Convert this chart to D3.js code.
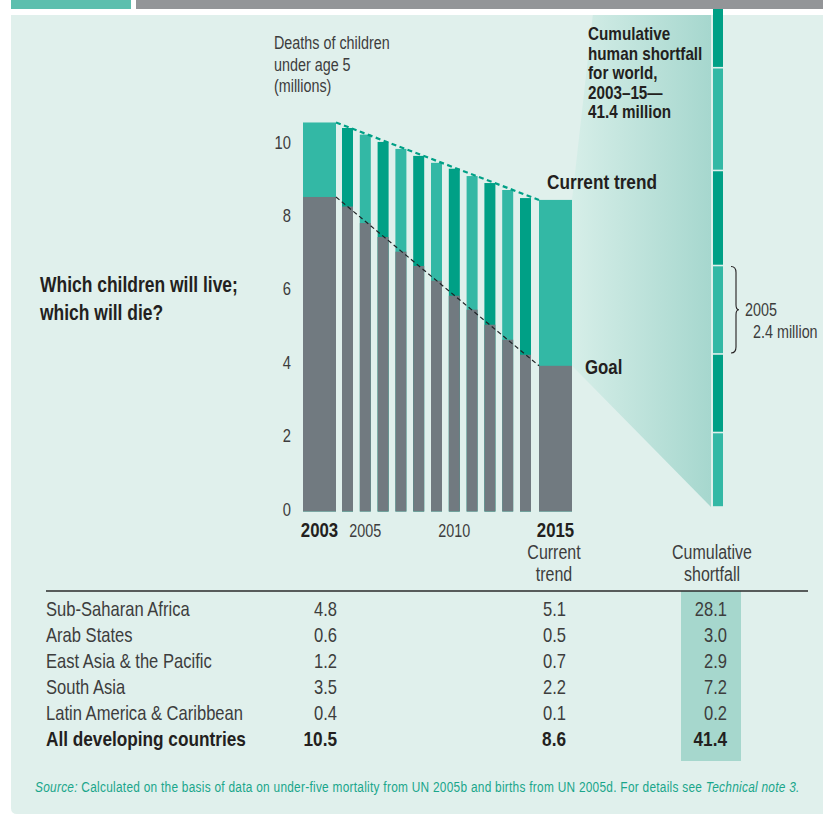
<!DOCTYPE html>
<html>
<head>
<meta charset="utf-8">
<script src="https://cdn.jsdelivr.net/npm/d3@7"></script>
<style>
  html, body { margin: 0; padding: 0; background: #ffffff; }
  svg { display: block; }
</style>
</head>
<body>
<svg id="chart" width="823" height="816"></svg>
<script>
// ---------------- DATA ----------------
const years = [2003, 2004, 2005, 2006, 2007, 2008, 2009, 2010, 2011, 2012, 2013, 2014, 2015];
// deaths of children under 5 (millions), current trend
const trendValues = [10.6, 10.45, 10.27, 10.07, 9.88, 9.69, 9.5, 9.34, 9.14, 8.95, 8.76, 8.54, 8.49];
// deaths if the goal trajectory were followed (millions)
const goalValues = [8.57, 8.31, 7.86, 7.48, 7.08, 6.69, 6.29, 5.88, 5.5, 5.09, 4.68, 4.27, 3.97];
const yTicks = [0, 2, 4, 6, 8, 10];
const yearLabels = [
  { year: 2003, label: "2003", bold: true },
  { year: 2005, label: "2005", bold: false },
  { year: 2010, label: "2010", bold: false },
  { year: 2015, label: "2015", bold: true }
];
const regions = ["Sub-Saharan Africa", "Arab States", "East Asia & the Pacific", "South Asia", "Latin America & Caribbean", "All developing countries"];
const deaths2003 = ["4.8", "0.6", "1.2", "3.5", "0.4", "10.5"];
const deaths2015 = ["5.1", "0.5", "0.7", "2.2", "0.1", "8.6"];
const cumulativeShortfall = ["28.1", "3.0", "2.9", "7.2", "0.2", "41.4"];

// ---------------- SETUP ----------------
const svg = d3.select("#chart");
const C = {
  bg: "#e0f0ec", dark: "#00a086", light: "#33b8a5", gray: "#717a80",
  text: "#231f20", soft: "#3d3d3d", teal: "#1aa68b", hl: "#a6d7cd",
  tab: "#5dbfae", head: "#939598"
};

// font detection: narrow font available?
const cv = document.createElement("canvas").getContext("2d");
cv.font = '20px "Liberation Sans Narrow", monospace';
const wN = cv.measureText("Sub-Saharan Africa").width;
cv.font = '20px monospace';
const wM = cv.measureText("Sub-Saharan Africa").width;
const hasNarrow = Math.abs(wN - wM) > 1;
const FAM = hasNarrow ? '"Liberation Sans Narrow", sans-serif' : '"Liberation Sans", Arial, sans-serif';
const SX = hasNarrow ? 1 : 0.82;

function txt(parent, o) {
  const g = parent.append("g").attr("transform", `translate(${o.x},${o.y}) scale(${SX},1)`);
  const t = g.append("text")
    .attr("x", 0).attr("y", 0)
    .attr("font-family", FAM)
    .attr("font-size", o.size || 17)
    .attr("font-weight", o.bold ? "bold" : "normal")
    .attr("text-anchor", o.anchor || "start")
    .attr("fill", o.fill || C.text);
  if (o.ls) t.attr("letter-spacing", o.ls);
  if (o.italic) t.attr("font-style", "italic");
  if (o.parts) {
    o.parts.forEach(p => {
      const s = t.append("tspan").text(p.t);
      if (p.italic) s.attr("font-style", "italic");
    });
  } else t.text(o.text);
  return t;
}

// ---------------- FRAME ----------------
svg.append("rect").attr("x", 11).attr("y", 0).attr("width", 120).attr("height", 9).attr("fill", C.tab);
svg.append("rect").attr("x", 136).attr("y", 0).attr("width", 687).attr("height", 9).attr("fill", C.head);
svg.append("path").attr("d", "M11,15 H823 V814 H17 Q11,814 11,808 Z").attr("fill", C.bg);

// ---------------- SCALES ----------------
const y = d3.scaleLinear().domain([0, 10]).range([511.5, 144.5]);
const xc = d3.scaleLinear().domain([2003, 2004, 2014, 2015]).range([319.5, 347.5, 525.5, 555.5]);
const bw = yr => (yr === 2003 || yr === 2015) ? 33 : 11;
const colorOf = (yr, i) => (yr === 2003 || yr === 2015) ? C.light : (i % 2 === 1 ? C.dark : C.light);

const data = years.map((yr, i) => ({ yr, i, trend: trendValues[i], goal: goalValues[i], gap: trendValues[i] - goalValues[i] }));

// ---------------- FUNNEL + CUMULATIVE COLUMN ----------------
const colX = 713, colW = 10, colBase = 507;
const unit = y(0) - y(1);
const total = d3.sum(data, d => d.gap);
const colTop = colBase - total * unit;
const last = data[data.length - 1];
const defs = svg.append("defs");
const grad = defs.append("linearGradient").attr("id", "fg").attr("gradientUnits", "userSpaceOnUse")
  .attr("x1", xc(2015) + bw(2015) / 2).attr("x2", colX - 2).attr("y1", 0).attr("y2", 0);
grad.append("stop").attr("offset", 0).attr("stop-color", "#d6eee8");
grad.append("stop").attr("offset", 1).attr("stop-color", "#a6d7ce");
defs.append("clipPath").attr("id", "panelClip").append("rect").attr("x", 11).attr("y", 15).attr("width", 812).attr("height", 800);
defs.append("clipPath").attr("id", "colClip").append("rect").attr("x", 0).attr("y", 9).attr("width", 823).attr("height", 810);

const fx = xc(2015) + bw(2015) / 2;
svg.append("path")
  .attr("clip-path", "url(#panelClip)")
  .attr("fill", "url(#fg)")
  .attr("d", `M${fx},${y(last.trend)} L${colX - 2},${colTop} L${colX - 2},${colBase} L${fx},${y(last.goal)} Z`);

const colG = svg.append("g").attr("clip-path", "url(#colClip)");
let acc = 0;
data.forEach(d => {
  const top = colBase - (acc + d.gap) * unit;
  const bot = colBase - acc * unit;
  colG.append("rect").attr("x", colX).attr("width", colW)
    .attr("y", top + 0.8).attr("height", Math.max(0, bot - top - 1.6))
    .attr("fill", colorOf(d.yr, d.i));
  d.colTop = top; d.colBot = bot;
  acc += d.gap;
});

// brace for 2005 segment
const b05 = data.find(d => d.yr === 2005);
const bt = b05.colTop + 1, bb = b05.colBot - 1, bm = (bt + bb) / 2, bx = 731;
svg.append("path")
  .attr("fill", "none").attr("stroke", C.text).attr("stroke-width", 1.1)
  .attr("d", `M${bx},${bt} Q${bx + 5},${bt} ${bx + 5},${bt + 6} L${bx + 5},${bm - 5} Q${bx + 5},${bm} ${bx + 8},${bm} Q${bx + 5},${bm} ${bx + 5},${bm + 5} L${bx + 5},${bb - 6} Q${bx + 5},${bb} ${bx},${bb}`);
txt(svg, { x: 745, y: bm + 6, text: "2005", size: 17.5, fill: C.soft });
txt(svg, { x: 753, y: bm + 28, text: "2.4 million", size: 17.5, fill: C.soft });

// ---------------- BARS ----------------
const bars = svg.append("g");
bars.selectAll("rect.t").data(data).join("rect").attr("class", "t")
  .attr("x", d => xc(d.yr) - bw(d.yr) / 2).attr("width", d => bw(d.yr))
  .attr("y", d => y(d.trend)).attr("height", d => y(0) - y(d.trend))
  .attr("fill", d => colorOf(d.yr, d.i));
bars.selectAll("rect.g").data(data).join("rect").attr("class", "g")
  .attr("x", d => xc(d.yr) - bw(d.yr) / 2).attr("width", d => bw(d.yr))
  .attr("y", d => y(d.goal)).attr("height", d => y(0) - y(d.goal))
  .attr("fill", C.gray);

// dashed lines
const first = data[0];
const lx1 = xc(2003) + bw(2003) / 2, lx2 = xc(2015) - bw(2015) / 2;
svg.append("line").attr("x1", lx1).attr("y1", y(first.trend)).attr("x2", lx2).attr("y2", y(last.trend))
  .attr("stroke", C.dark).attr("stroke-width", 2.2).attr("stroke-dasharray", "5,3.5");
svg.append("line").attr("x1", lx1).attr("y1", y(first.goal)).attr("x2", lx2).attr("y2", y(last.goal))
  .attr("stroke", "#1f2326").attr("stroke-width", 1.2).attr("stroke-dasharray", "4.5,3");

// ---------------- AXIS ----------------
const ax = svg.append("g").attr("transform", "translate(292,0)")
  .call(d3.axisLeft(y).tickValues(yTicks).tickSize(0).tickPadding(0).tickFormat(d3.format("d")));
ax.select(".domain").remove();
ax.selectAll("text").remove();
yTicks.forEach(v => txt(svg, { x: 291, y: y(v) + 4, text: String(v), size: 18, anchor: "end", fill: C.soft }));

["Deaths of children", "under age 5", "(millions)"].forEach((s, i) =>
  txt(svg, { x: 274, y: 49 + i * 21.5, text: s, size: 17.5, fill: C.soft }));

yearLabels.forEach(l => txt(svg, {
  x: xc(l.year), y: 537, text: l.label, size: l.bold ? 20.5 : 17.5, bold: l.bold,
  anchor: "middle", fill: l.bold ? C.text : C.soft
}));

// ---------------- ANNOTATIONS ----------------
txt(svg, { x: 40, y: 292, text: "Which children will live;", size: 21.3, bold: true });
txt(svg, { x: 40, y: 320, text: "which will die?", size: 21.3, bold: true });
txt(svg, { x: 547, y: 189, text: "Current trend", size: 21, bold: true });
txt(svg, { x: 585, y: 374, text: "Goal", size: 20.5, bold: true });
["Cumulative", "human shortfall", "for world,", "2003\u201315\u2014", "41.4 million"].forEach((s, i) =>
  txt(svg, { x: 588, y: 40 + i * 19.5, text: s, size: 18.6, bold: true }));

// ---------------- TABLE ----------------
txt(svg, { x: 554, y: 559, text: "Current", size: 19.5, anchor: "middle", fill: C.soft });
txt(svg, { x: 554, y: 581, text: "trend", size: 19.5, anchor: "middle", fill: C.soft });
txt(svg, { x: 712, y: 559, text: "Cumulative", size: 19.5, anchor: "middle", fill: C.soft });
txt(svg, { x: 712, y: 581, text: "shortfall", size: 19.5, anchor: "middle", fill: C.soft });

svg.append("rect").attr("x", 681).attr("y", 591).attr("width", 60).attr("height", 170).attr("fill", C.hl);
svg.append("line").attr("x1", 46).attr("x2", 808).attr("y1", 591).attr("y2", 591).attr("stroke", "#2b2b2b").attr("stroke-width", 1.3);

regions.forEach((r, i) => {
  const b = i === regions.length - 1;
  const yy = 616 + i * 26;
  const col = b ? C.text : C.soft;
  const sz = b ? 21 : 20.2;
  txt(svg, { x: 46, y: yy, text: r, size: sz, bold: b, fill: col });
  txt(svg, { x: 337, y: yy, text: deaths2003[i], size: sz, bold: b, anchor: "end", fill: col });
  txt(svg, { x: 566, y: yy, text: deaths2015[i], size: sz, bold: b, anchor: "end", fill: col });
  txt(svg, { x: 727, y: yy, text: cumulativeShortfall[i], size: sz, bold: b, anchor: "end", fill: col });
});

// ---------------- SOURCE ----------------
txt(svg, {
  x: 35, y: 792, size: 14.5, fill: C.teal, ls: 0.32,
  parts: [
    { t: "Source:", italic: true },
    { t: " Calculated on the basis of data on under-five mortality from UN 2005b and births from UN 2005d. For details see " },
    { t: "Technical note 3.", italic: true }
  ]
});
</script>
</body>
</html>
